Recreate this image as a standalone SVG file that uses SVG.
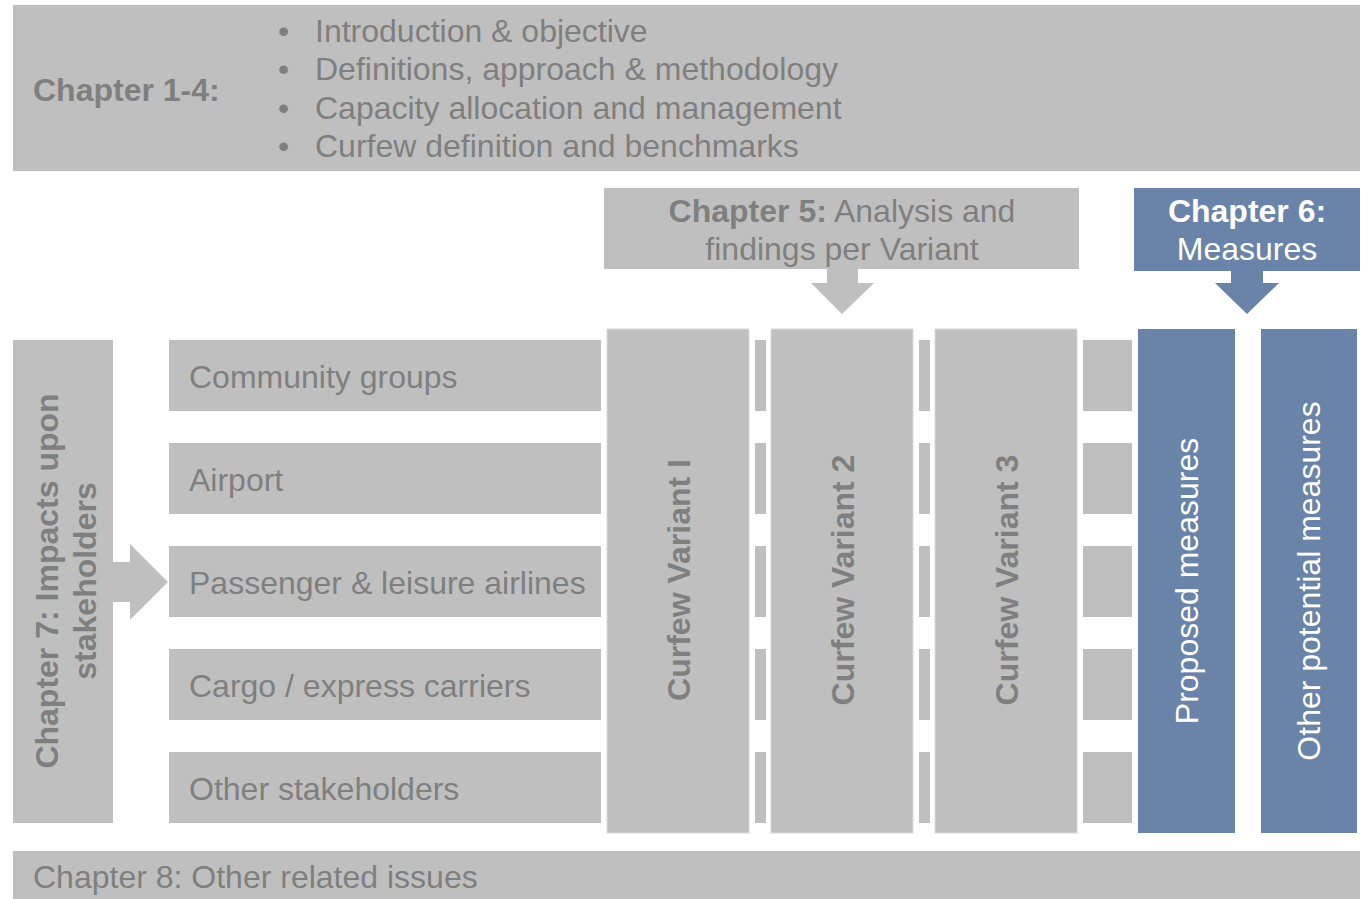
<svg xmlns="http://www.w3.org/2000/svg" width="1369" height="899" viewBox="0 0 1369 899">
<style>
.g{fill:#BFBFBF}
.b{fill:#6A83A8}
.t{font-family:"Liberation Sans",Arial,sans-serif;font-size:32px;fill:#7F7F7F}
.bd{font-weight:bold}
.w{fill:#FFFFFF}
.col{stroke:#D9D9D9;stroke-width:1}
</style>
<rect width="1369" height="899" fill="#FFFFFF"/>
<g id="ch1-4">
<rect class="g" x="13" y="5" width="1347" height="166"/>
<text class="t bd" x="33" y="101">Chapter 1-4:</text>
<text class="t" x="278" y="42">•</text><text class="t" x="315" y="42">Introduction &amp; objective</text>
<text class="t" x="278" y="80">•</text><text class="t" x="315" y="80">Definitions, approach &amp; methodology</text>
<text class="t" x="278" y="119">•</text><text class="t" x="315" y="119">Capacity allocation and management</text>
<text class="t" x="278" y="157">•</text><text class="t" x="315" y="157">Curfew definition and benchmarks</text>
</g>
<g id="ch5">
<rect class="g" x="604" y="188" width="475" height="81"/>
<text class="t" x="842" y="222" text-anchor="middle"><tspan class="bd">Chapter 5:</tspan> Analysis and</text>
<text class="t" x="842" y="260" text-anchor="middle">findings per Variant</text>
</g>
<g id="ch6">
<rect class="b" x="1134" y="188" width="226" height="83"/>
<text class="t bd w" x="1247" y="222" text-anchor="middle">Chapter 6:</text>
<text class="t w" x="1247" y="260" text-anchor="middle">Measures</text>
</g>
<g id="ch7">
<rect class="g" x="13" y="340" width="100" height="483"/>
<text class="t bd" transform="translate(58 581) rotate(-90)" text-anchor="middle">Chapter 7: Impacts upon</text>
<text class="t bd" transform="translate(96 581) rotate(-90)" text-anchor="middle">stakeholders</text>
</g>
<g id="stakeholders">
<rect class="g" x="169" y="340" width="432" height="71"/>
<text class="t" x="189" y="388">Community groups</text>
<rect class="g" x="169" y="443" width="432" height="71"/>
<text class="t" x="189" y="491">Airport</text>
<rect class="g" x="169" y="546" width="432" height="71"/>
<text class="t" x="189" y="594">Passenger &amp; leisure airlines</text>
<rect class="g" x="169" y="649" width="432" height="71"/>
<text class="t" x="189" y="697">Cargo / express carriers</text>
<rect class="g" x="169" y="752" width="432" height="71"/>
<text class="t" x="189" y="800">Other stakeholders</text>
</g>
<g id="strips">
<rect class="g" x="755" y="340" width="11" height="71"/><rect class="g" x="755" y="443" width="11" height="71"/><rect class="g" x="755" y="546" width="11" height="71"/><rect class="g" x="755" y="649" width="11" height="71"/><rect class="g" x="755" y="752" width="11" height="71"/>
<rect class="g" x="919" y="340" width="11" height="71"/><rect class="g" x="919" y="443" width="11" height="71"/><rect class="g" x="919" y="546" width="11" height="71"/><rect class="g" x="919" y="649" width="11" height="71"/><rect class="g" x="919" y="752" width="11" height="71"/>
<rect class="g" x="1083" y="340" width="49" height="71"/><rect class="g" x="1083" y="443" width="49" height="71"/><rect class="g" x="1083" y="546" width="49" height="71"/><rect class="g" x="1083" y="649" width="49" height="71"/><rect class="g" x="1083" y="752" width="49" height="71"/>
</g>
<g id="variant1">
<rect class="g col" x="607" y="329" width="142" height="504"/>
<text class="t bd" transform="translate(690 580) rotate(-90)" text-anchor="middle">Curfew Variant I</text>
</g>
<g id="variant2">
<rect class="g col" x="771" y="329" width="142" height="504"/>
<text class="t bd" transform="translate(854 580) rotate(-90)" text-anchor="middle">Curfew Variant 2</text>
</g>
<g id="variant3">
<rect class="g col" x="935" y="329" width="142" height="504"/>
<text class="t bd" transform="translate(1018 580) rotate(-90)" text-anchor="middle">Curfew Variant 3</text>
</g>
<g id="proposed">
<rect class="b" x="1138" y="329" width="97" height="504"/>
<text class="t w" transform="translate(1198 581) rotate(-90)" text-anchor="middle">Proposed measures</text>
</g>
<g id="other-measures">
<rect class="b" x="1261" y="329" width="96" height="504"/>
<text class="t w" transform="translate(1320 581) rotate(-90)" text-anchor="middle">Other potential measures</text>
</g>
<g id="ch8">
<rect class="g" x="13" y="851" width="1347" height="48"/>
<text class="t" x="33" y="888">Chapter 8: Other related issues</text>
</g>
<g id="connectors">
<polygon class="g" points="827,269 858,269 858,283 874,283 842,314 811,283 827,283"/>
<polygon class="b" points="1231,271 1263,271 1263,283 1279,283 1247,314 1215,283 1231,283"/>
<polygon class="g" points="113,562 130,562 130,544 168,582 130,620 130,602 113,602"/>
</g>
</svg>
